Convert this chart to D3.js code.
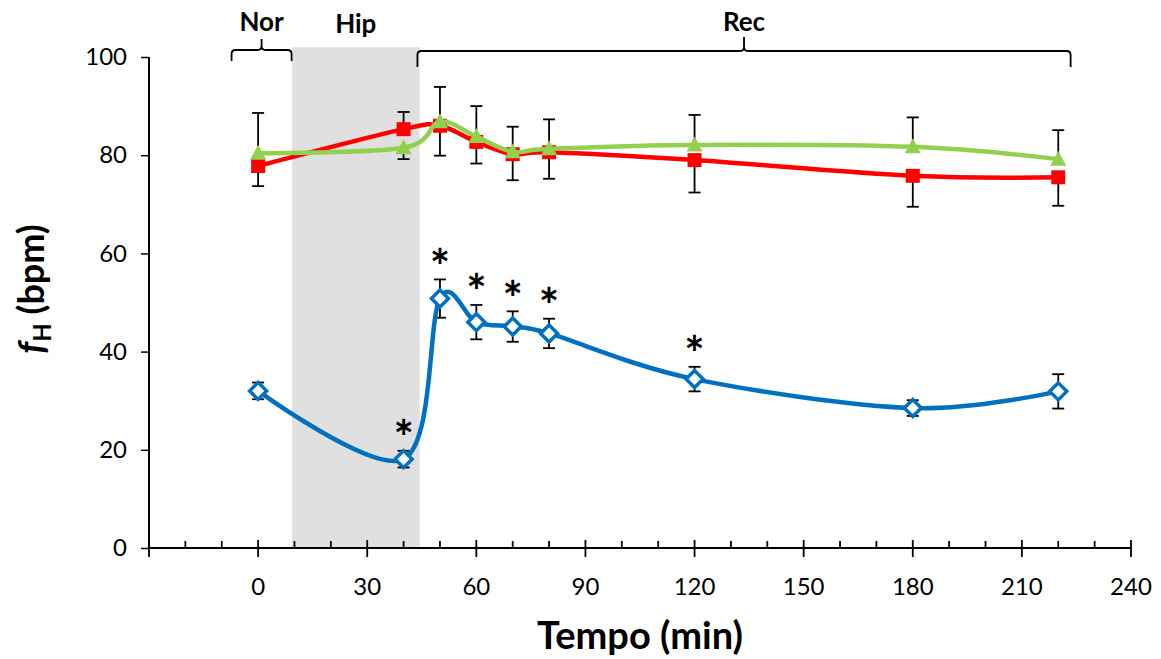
<!DOCTYPE html>
<html>
<head>
<meta charset="utf-8">
<script src="https://cdn.jsdelivr.net/npm/d3@7"></script>
<style>
  body { margin: 0; background: #fff; }
  text { font-family: Lato, "Open Sans", sans-serif; fill: #000; }
</style>
</head>
<body>
<div id="chart"></div>
<script>
// time points (min)
var times = [0, 40, 50, 60, 70, 80, 120, 180, 220];

// heart rate, bpm: mean and error (up / down; 0 = bar not drawn)
var blueMean = [32.0, 18.1, 50.8, 46.0, 45.1, 43.7, 34.4, 28.5, 31.9];
var blueErrUp   = [1.7, 1.7, 3.9, 3.5, 3.1, 3.0, 2.5, 1.6, 3.5];
var blueErrDown = [1.7, 1.7, 3.9, 3.5, 3.1, 3.0, 2.5, 1.6, 3.5];
var redMean  = [77.8, 85.3, 86.0, 82.7, 80.2, 80.6, 79.0, 75.8, 75.5];
var redErrUp   = [0, 3.5, 0, 0, 0, 0, 0, 0, 0];
var redErrDown = [4.1, 0, 6.1, 4.4, 5.3, 5.4, 6.6, 6.3, 5.8];
var greenMean = [80.4, 81.5, 86.8, 83.8, 80.7, 81.3, 82.1, 81.7, 79.2];
var greenErrUp   = [8.2, 0, 7.1, 6.2, 5.1, 6.0, 6.1, 6.0, 5.9];
var greenErrDown = [0, 2.3, 0, 0, 0, 0, 0, 0, 0];

// significance marks on the blue series
var blueSig = [false, true, true, true, true, true, true, false, false];

// axis ticks
var xTicks = [0, 30, 60, 90, 120, 150, 180, 210, 240];
var xMinorTicks = [-20, -10, 10, 20, 40, 50, 70, 80, 100, 110, 130, 140, 160, 170, 190, 200, 220, 230];
var yTicks = [0, 20, 40, 60, 80, 100];

// phases: hypoxia shading and brackets
var hipBand = [9.3, 44.4];
var phases = [
  { label: "Nor", from: -7.3, to: 9.2 },
  { label: "Rec", from: 43.8, to: 223.4 }
];
var hipLabel = "Hip";

var svgWidth = 1161;
var svgHeight = 659;
var margin = { top: 57, right: 30, bottom: 111, left: 149 };
var width = svgWidth - margin.left - margin.right;
var height = svgHeight - margin.top - margin.bottom;

var svg = d3.select("#chart").append("svg")
  .attr("width", svgWidth)
  .attr("height", svgHeight);

var g = svg.append("g")
  .attr("transform", `translate(${margin.left}, ${margin.top})`);

var x = d3.scaleLinear().domain([-30, 240]).range([0, width]);
var y = d3.scaleLinear().domain([0, 100]).range([height, 0]);

// grey hypoxia band
g.append("rect")
  .attr("x", x(hipBand[0]))
  .attr("y", y(102))
  .attr("width", x(hipBand[1]) - x(hipBand[0]))
  .attr("height", y(0) - y(102))
  .attr("fill", "#e0e0e0");

// brackets
function bracketPath(x0, x1, yLine, yEnd, yPeak) {
  var xm = (x0 + x1) / 2;
  var r = 4;
  return `M${x0},${yEnd} L${x0},${yLine + r} Q${x0},${yLine} ${x0 + r},${yLine}` +
    ` L${xm - r},${yLine} Q${xm},${yLine} ${xm},${yLine - r} L${xm},${yPeak}` +
    ` M${xm},${yLine - r} Q${xm},${yLine} ${xm + r},${yLine} L${x1 - r},${yLine}` +
    ` Q${x1},${yLine} ${x1},${yLine + r} L${x1},${yEnd}`;
}

phases.forEach(function(p) {
  var x0 = x(p.from), x1 = x(p.to);
  var isRec = p.label === "Rec";
  var yLine = isRec ? -6 : -7;
  var yEnd = isRec ? 10 : 4;
  var yPeak = isRec ? -20 : -18;
  g.append("path")
    .attr("d", bracketPath(x0, x1, yLine, yEnd, yPeak))
    .attr("fill", "none")
    .attr("stroke", "#000")
    .attr("stroke-width", 1.8);
  g.append("text")
    .attr("x", (x0 + x1) / 2)
    .attr("y", -26)
    .attr("text-anchor", "middle")
    .attr("font-size", 26)
    .attr("font-weight", "bold")
    .text(p.label);
});

g.append("text")
  .attr("x", (x(hipBand[0]) + x(hipBand[1])) / 2)
  .attr("y", -24)
  .attr("text-anchor", "middle")
  .attr("font-size", 26)
  .attr("font-weight", "bold")
  .text(hipLabel);

// y axis
var yAxis = g.append("g")
  .call(d3.axisLeft(y).tickValues(yTicks).tickSize(8).tickPadding(14));
yAxis.select(".domain").attr("stroke", "#000").attr("stroke-width", 2).attr("d", `M0,${height}V0`);
yAxis.selectAll(".tick line").attr("stroke", "#000").attr("stroke-width", 1.5);
yAxis.selectAll(".tick text").attr("font-size", 24).attr("font-family", "Lato, sans-serif");

// x axis: major ticks crossing, minor ticks inside
var xAxisG = g.append("g").attr("transform", `translate(0, ${height})`);
xAxisG.append("line")
  .attr("x1", 0).attr("x2", width)
  .attr("stroke", "#000").attr("stroke-width", 2);
xAxisG.selectAll(".major").data(xTicks.concat([-30])).enter().append("line")
  .attr("x1", d => x(d)).attr("x2", d => x(d))
  .attr("y1", -8).attr("y2", 9)
  .attr("stroke", "#000").attr("stroke-width", 1.8);
xAxisG.selectAll(".minor").data(xMinorTicks).enter().append("line")
  .attr("x1", d => x(d)).attr("x2", d => x(d))
  .attr("y1", -7).attr("y2", 0)
  .attr("stroke", "#000").attr("stroke-width", 1.8);
xAxisG.selectAll(".lbl").data(xTicks).enter().append("text")
  .attr("x", d => x(d))
  .attr("y", 47)
  .attr("text-anchor", "middle")
  .attr("font-size", 24)
  .text(d => d);

// axis titles
g.append("text")
  .attr("x", width / 2)
  .attr("y", height + 101)
  .attr("text-anchor", "middle")
  .attr("font-size", 38)
  .attr("font-weight", "bold")
  .text("Tempo (min)");

var yTitle = svg.append("text")
  .attr("transform", `translate(44, ${margin.top + 232}) rotate(-90)`)
  .attr("text-anchor", "middle")
  .attr("font-size", 36)
  .attr("font-weight", "bold");
yTitle.append("tspan").attr("font-style", "italic").text("f");
yTitle.append("tspan").attr("font-size", 24).attr("dy", 7).text("H");
yTitle.append("tspan").attr("dy", -7).text(" (bpm)");

// series
var series = [
  { mean: blueMean, up: blueErrUp, down: blueErrDown, color: "#0070c0", marker: "diamond" },
  { mean: redMean, up: redErrUp, down: redErrDown, color: "#ff0000", marker: "square" },
  { mean: greenMean, up: greenErrUp, down: greenErrDown, color: "#92d050", marker: "triangle" }
];

var line = d3.line()
  .x((d, i) => x(times[i]))
  .y(d => y(d))
  .curve(d3.curveCardinal.tension(0));

// error bars under everything
series.forEach(function(s) {
  var eb = g.append("g");
  s.mean.forEach(function(m, i) {
    var cx = x(times[i]);
    [s.up[i], -s.down[i]].forEach(function(e) {
      if (e === 0) return;
      var ye = y(m + e);
      eb.append("line").attr("x1", cx).attr("x2", cx).attr("y1", y(m)).attr("y2", ye)
        .attr("stroke", "#000").attr("stroke-width", 1.8);
      eb.append("line").attr("x1", cx - 6).attr("x2", cx + 6).attr("y1", ye).attr("y2", ye)
        .attr("stroke", "#000").attr("stroke-width", 1.8);
    });
  });
});

series.forEach(function(s) {
  g.append("path")
    .datum(s.mean)
    .attr("d", line)
    .attr("fill", "none")
    .attr("stroke", s.color)
    .attr("stroke-width", 4.5);

  var mk = g.append("g");
  s.mean.forEach(function(m, i) {
    var cx = x(times[i]), cy = y(m);
    if (s.marker === "square") {
      mk.append("rect").attr("x", cx - 7).attr("y", cy - 7)
        .attr("width", 14).attr("height", 14).attr("fill", s.color);
    } else if (s.marker === "triangle") {
      mk.append("path")
        .attr("d", `M${cx},${cy - 8.5} L${cx + 8},${cy + 6.5} L${cx - 8},${cy + 6.5} Z`)
        .attr("fill", s.color);
    } else {
      mk.append("path")
        .attr("d", `M${cx},${cy - 8.5} L${cx + 8.5},${cy} L${cx},${cy + 8.5} L${cx - 8.5},${cy} Z`)
        .attr("fill", "#fff")
        .attr("stroke", s.color)
        .attr("stroke-width", 3.5);
    }
  });
});

// asterisks
var starSize = 48;
g.selectAll(".sig")
  .data(times.map((t, i) => i).filter(i => blueSig[i]))
  .enter().append("text")
  .attr("x", i => x(times[i]))
  .attr("y", i => y(blueMean[i] + blueErrUp[i]) - 23 + 0.57 * starSize)
  .attr("text-anchor", "middle")
  .attr("font-family", "DejaVu Sans, sans-serif")
  .attr("font-weight", "bold")
  .attr("font-size", starSize)
  .text("*");
</script>
</body>
</html>
